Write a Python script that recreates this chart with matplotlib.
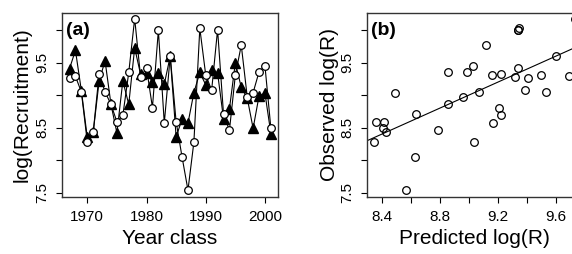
import matplotlib
matplotlib.use("Agg")
import matplotlib.pyplot as plt
import numpy as np

plt.rcParams['font.family'] = ['Liberation Sans', 'DejaVu Sans']

years = np.arange(1967, 2002)
observed = [9.27, 9.29, 9.05, 8.28, 8.43, 9.33, 9.05, 8.86, 8.59, 8.69,
            9.35, 10.18, 9.28, 9.42, 8.81, 10.00, 8.57, 9.60, 8.59, 8.05,
            7.54, 8.28, 10.03, 9.31, 9.08, 10.01, 8.71, 8.46, 9.31, 9.77,
            8.98, 9.04, 9.36, 9.45, 8.49]
predicted = [9.41, 9.69, 9.07, 8.35, 8.43, 9.22, 9.53, 8.86, 8.42, 9.22,
             8.86, 9.73, 9.32, 9.34, 9.21, 9.34, 9.17, 9.60, 8.36, 8.63,
             8.57, 9.04, 9.35, 9.16, 9.39, 9.34, 8.64, 8.79, 9.50, 9.12,
             8.96, 8.49, 8.99, 9.03, 8.41]

fig = plt.figure(figsize=(5.72, 2.54), dpi=100)
ax1 = fig.add_axes([0.1084, 0.2244, 0.3776, 0.7256])
ax2 = fig.add_axes([0.641, 0.2244, 0.3776, 0.7256])

# (a) time series
ax1.plot(years, predicted, '-', color='black', lw=0.8, zorder=2)
ax1.plot(years, predicted, '^', color='black', ms=7, zorder=3)
ax1.plot(years, observed, '-', color='black', lw=0.8, zorder=2)
ax1.plot(years, observed, 'o', mfc='white', mec='black', mew=0.9, ms=5.5, zorder=4)
ax1.set_xlim(1965.73, 2002.2)
ax1.set_ylim(7.434, 10.27)
ax1.set_xticks([1970, 1980, 1990, 2000])
ax1.set_xlabel('Year class', fontsize=15, labelpad=4)
ax1.set_ylabel('log(Recruitment)', fontsize=15, labelpad=3)
ax1.text(0.02, 0.95, '(a)', transform=ax1.transAxes, fontsize=14,
         fontweight='bold', va='top', ha='left')

# (b) observed vs predicted
ax2.axline((8.0, 8.0), slope=1, color='black', lw=0.8)
ax2.plot(predicted, observed, 'o', mfc='none', mec='black', mew=0.9, ms=5.5)
ax2.set_xlim(8.297, 9.786)
ax2.set_ylim(7.434, 10.27)
ax2.set_xticks([8.4, 8.6, 8.8, 9.0, 9.2, 9.4, 9.6])
ax2.set_xticklabels(['8.4', '', '8.8', '', '9.2', '', '9.6'])
ax2.set_xlabel('Predicted log(R)', fontsize=15, labelpad=4)
ax2.set_ylabel('Observed log(R)', fontsize=15, labelpad=1)
ax2.text(0.02, 0.95, '(b)', transform=ax2.transAxes, fontsize=14,
         fontweight='bold', va='top', ha='left')

for ax in (ax1, ax2):
    ax.set_yticks([7.5, 8.0, 8.5, 9.0, 9.5, 10.0])
    ax.set_yticklabels(['7.5', '', '8.5', '', '9.5', ''], rotation=90, va='center')
    ax.tick_params(direction='out', length=4, width=0.8, labelsize=11, pad=5)
    for s in ax.spines.values():
        s.set_color('#333333')
        s.set_linewidth(1.0)

fig.savefig('out.png', dpi=100)
